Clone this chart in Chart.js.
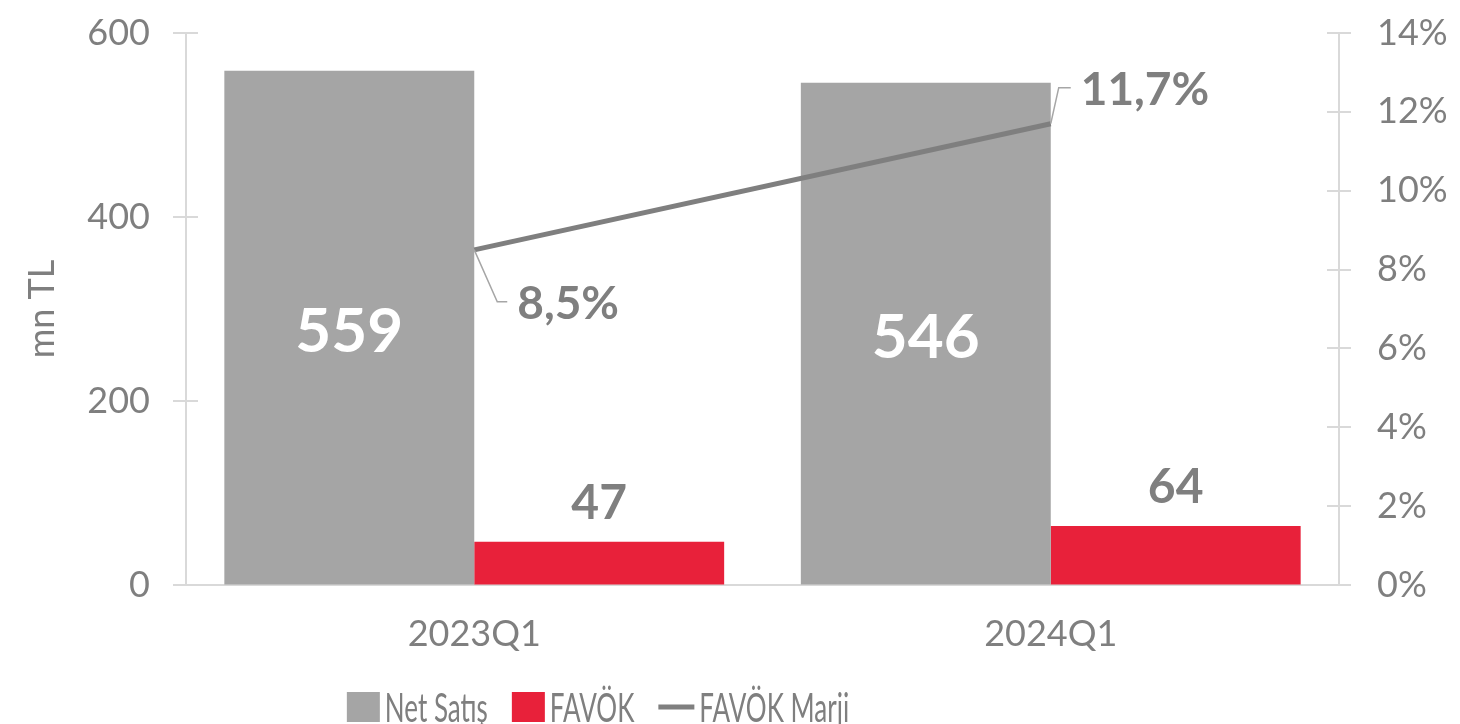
<!DOCTYPE html>
<html>
<head>
<meta charset="utf-8">
<title>Net Satış / FAVÖK</title>
<script src="https://cdn.jsdelivr.net/npm/chart.js@4.4.1/dist/chart.umd.min.js"></script>
<style>
    html, body { margin: 0; padding: 0; background: #ffffff; }
    canvas { display: block; }
</style>
</head>
<body>
<canvas id="salesChart" width="1460" height="724"></canvas>
<script>
// Chart data
const categories = ['2023Q1', '2024Q1'];
const netSales = [559, 546];
const ebitda = [47, 64];
const ebitdaMargin = [8.5, 11.7];
const seriesNames = ['Net Satış', 'FAVÖK', 'FAVÖK Marji'];
const leftTicks = [0, 200, 400, 600];
const rightTicks = [0, 2, 4, 6, 8, 10, 12, 14];

const colors = {
    gray: '#a5a5a5',
    red: '#e8213a',
    line: '#7f7f7f',
    text: '#7f7f7f',
    axis: '#d9d9d9',
    leader: '#a6a6a6'
};
const FONT = 'Lato, "Open Sans", sans-serif';

const fmtPct = (v) => v.toFixed(1).replace('.', ',') + '%';

// Axis lines with tick marks that cross the axis (Excel style)
const axisTicks = {
    id: 'axisTicks',
    beforeDatasetsDraw(chart) {
        const { ctx, chartArea, scales } = chart;
        ctx.save();
        ctx.strokeStyle = colors.axis;
        ctx.lineWidth = 2;
        ctx.beginPath();
        ctx.moveTo(chartArea.left - 13, chartArea.bottom);
        ctx.lineTo(chartArea.right + 12, chartArea.bottom);
        scales.y.ticks.forEach(t => {
            const y = Math.round(scales.y.getPixelForValue(t.value));
            ctx.moveTo(chartArea.left - 13, y);
            ctx.lineTo(chartArea.left + 12, y);
        });
        scales.y1.ticks.forEach(t => {
            const y = Math.round(scales.y1.getPixelForValue(t.value));
            ctx.moveTo(chartArea.right - 12, y);
            ctx.lineTo(chartArea.right + 12, y);
        });
        ctx.stroke();
        ctx.restore();
    }
};

// Value labels
const valueLabels = {
    id: 'valueLabels',
    afterDatasetsDraw(chart) {
        const { ctx } = chart;
        ctx.save();

        // Net Satış - white, inside bar
        chart.getDatasetMeta(0).data.forEach((bar, i) => {
            ctx.fillStyle = '#ffffff';
            ctx.font = 'bold 62px ' + FONT;
            ctx.textAlign = 'center';
            ctx.textBaseline = 'middle';
            ctx.fillText(netSales[i], bar.x, (bar.y + bar.base) / 2 + 4);
        });

        // FAVÖK - gray, above bar
        chart.getDatasetMeta(1).data.forEach((bar, i) => {
            ctx.fillStyle = colors.text;
            ctx.font = 'bold 48px ' + FONT;
            ctx.textAlign = 'center';
            ctx.textBaseline = 'alphabetic';
            ctx.fillText(ebitda[i], bar.x, bar.y - 23);
        });

        // FAVÖK Marji - labels with leader lines
        const leaders = [
            { dx: 23, dy: 52, hx: 10 },
            { dx: 8, dy: -36, hx: 12 }
        ];
        chart.getDatasetMeta(2).data.forEach((pt, i) => {
            const l = leaders[i];
            const ex = pt.x + l.dx;
            const ey = pt.y + l.dy;
            ctx.strokeStyle = colors.leader;
            ctx.lineWidth = 1.5;
            ctx.beginPath();
            ctx.moveTo(pt.x, pt.y);
            ctx.lineTo(ex, ey);
            ctx.lineTo(ex + l.hx, ey);
            ctx.stroke();

            ctx.fillStyle = colors.text;
            ctx.font = 'bold 46px ' + FONT;
            ctx.textAlign = 'left';
            ctx.textBaseline = 'middle';
            ctx.fillText(fmtPct(ebitdaMargin[i]), ex + l.hx + 10, ey + 2);
        });

        ctx.restore();
    }
};

// Bottom legend (boxes for bars, a stroke for the line)
const bottomLegend = {
    id: 'bottomLegend',
    afterDraw(chart) {
        const { ctx } = chart;
        const sx = 0.65;
        const boxH = 30;
        const baseY = 722;
        ctx.save();
        ctx.font = '40px ' + FONT;
        const items = chart.data.datasets.map(ds => {
            const markW = ds.type === 'line' ? 36 : 33;
            const textW = ctx.measureText(ds.label).width * sx;
            return { ds, markW, textW };
        });
        const gap = 5, spacing = 24;
        const total = items.reduce((s, it) => s + it.markW + gap + it.textW, 0) + spacing * (items.length - 1);
        let x = 598 - total / 2;
        items.forEach(it => {
            if (it.ds.type === 'line') {
                ctx.strokeStyle = it.ds.borderColor;
                ctx.lineWidth = 5;
                ctx.beginPath();
                ctx.moveTo(x, baseY - boxH / 2);
                ctx.lineTo(x + it.markW, baseY - boxH / 2);
                ctx.stroke();
            } else {
                ctx.fillStyle = it.ds.backgroundColor;
                ctx.fillRect(x, baseY - boxH, it.markW, boxH);
            }
            x += it.markW + gap;
            ctx.save();
            ctx.translate(x, baseY);
            ctx.scale(sx, 1);
            ctx.fillStyle = colors.text;
            ctx.textAlign = 'left';
            ctx.textBaseline = 'alphabetic';
            ctx.fillText(it.ds.label, 0, 0);
            ctx.restore();
            x += it.textW + spacing;
        });
        ctx.restore();
    }
};

// Fixed axis widths; drop the vertical label padding so the plot top sits at layout.padding.top
const fixVertical = (width) => (s) => {
    s.width = width;
    s.paddingTop = 0;
    s.paddingBottom = 0;
};

const ctx = document.getElementById('salesChart').getContext('2d');
const chart = new Chart(ctx, {
    data: {
        labels: categories,
        datasets: [
            {
                type: 'bar',
                label: seriesNames[0],
                data: netSales,
                backgroundColor: colors.gray,
                borderWidth: 0,
                yAxisID: 'y',
                order: 1,
                barPercentage: 1,
                categoryPercentage: 0.867
            },
            {
                type: 'bar',
                label: seriesNames[1],
                data: ebitda,
                backgroundColor: colors.red,
                borderWidth: 0,
                yAxisID: 'y',
                order: 1,
                barPercentage: 1,
                categoryPercentage: 0.867
            },
            {
                type: 'line',
                label: seriesNames[2],
                data: ebitdaMargin,
                borderColor: colors.line,
                backgroundColor: colors.line,
                borderWidth: 5,
                pointRadius: 0,
                tension: 0,
                yAxisID: 'y1',
                order: 0
            }
        ]
    },
    options: {
        responsive: false,
        animation: false,
        devicePixelRatio: 1,
        layout: {
            padding: { top: 33, bottom: 60, left: 0, right: 0 }
        },
        plugins: {
            legend: { display: false },
            tooltip: { enabled: false }
        },
        scales: {
            x: {
                grid: { display: false, drawTicks: false },
                border: { display: false },
                ticks: {
                    color: colors.text,
                    font: { family: FONT, size: 36 },
                    padding: 28
                },
                afterFit: (s) => { s.height = 724 - 60 - 585; }
            },
            y: {
                position: 'left',
                min: leftTicks[0],
                max: leftTicks[leftTicks.length - 1],
                afterBuildTicks: (s) => { s.ticks = leftTicks.map(v => ({ value: v })); },
                grid: { drawOnChartArea: false, drawTicks: false },
                border: { color: colors.axis, width: 2 },
                ticks: {
                    color: colors.text,
                    font: { family: FONT, size: 36 },
                    padding: 36
                },
                title: {
                    display: true,
                    text: 'mn TL',
                    color: colors.text,
                    font: { family: FONT, size: 36 },
                    padding: { top: 21, bottom: 0 }
                },
                afterFit: fixVertical(186)
            },
            y1: {
                position: 'right',
                min: rightTicks[0],
                max: rightTicks[rightTicks.length - 1],
                afterBuildTicks: (s) => { s.ticks = rightTicks.map(v => ({ value: v })); },
                grid: { drawOnChartArea: false, drawTicks: false },
                border: { color: colors.axis, width: 2 },
                ticks: {
                    color: colors.text,
                    font: { family: FONT, size: 36 },
                    padding: 38,
                    callback: (v) => v + '%'
                },
                afterFit: fixVertical(1460 - 1339)
            }
        }
    },
    plugins: [axisTicks, valueLabels, bottomLegend]
});
</script>
</body>
</html>
